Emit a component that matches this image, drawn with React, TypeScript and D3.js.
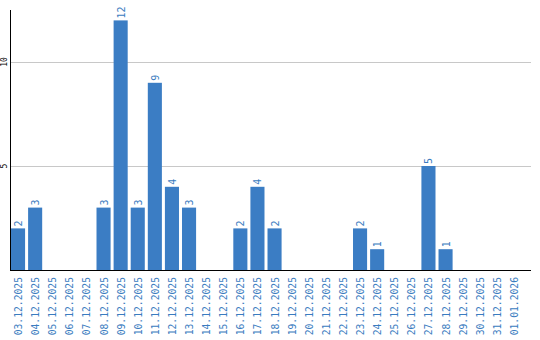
import React from "react";
import * as d3 from "d3";

const categories = [
  "03.12.2025","04.12.2025","05.12.2025","06.12.2025","07.12.2025","08.12.2025",
  "09.12.2025","10.12.2025","11.12.2025","12.12.2025","13.12.2025","14.12.2025",
  "15.12.2025","16.12.2025","17.12.2025","18.12.2025","19.12.2025","20.12.2025",
  "21.12.2025","22.12.2025","23.12.2025","24.12.2025","25.12.2025","26.12.2025",
  "27.12.2025","28.12.2025","29.12.2025","30.12.2025","31.12.2025","01.01.2026",
];
const values = [2,3,0,0,0,3,12,3,9,4,3,0,0,2,4,2,0,0,0,0,2,1,0,0,5,1,0,0,0,0];
const yTicks = [5, 10];

const W = 540, H = 340;
const left = 10, right = 531, top = 10, bottom = 270;
const BLUE = "#3b7dc4";
const TEXT_BLUE = "#3a7cc0";
const FONT = "'DejaVu Sans Mono', monospace";

export default function App() {
  const x = d3.scaleBand<string>().domain(categories).range([11, 521]).paddingInner(3 / 17).paddingOuter(0).align(0);
  const y = d3.scaleLinear().domain([0, 12.5]).range([bottom, top]);
  return (
    <svg width={W} height={H} style={{ position: "absolute", left: 0, top: 0 }}>
      {yTicks.map((t) => (
        <g key={t}>
          <line x1={left} x2={right} y1={Math.round(y(t)) + 0.5} y2={Math.round(y(t)) + 0.5} stroke="#c8c8c8" strokeWidth={1} />
          <text transform={`translate(7,${y(t)}) rotate(-90)`} textAnchor="middle" fontFamily={FONT} fontSize={8} fill="#000">{t}</text>
        </g>
      ))}
      {values.map((v, i) => {
        const c = categories[i];
        const bx = x(c)!;
        return v > 0 ? (
          <g key={c}>
            <rect x={bx} y={y(v)} width={x.bandwidth()} height={bottom - y(v)} fill={BLUE} />
            <text transform={`translate(${bx + x.bandwidth() / 2 + 4},${y(v) - 2}) rotate(-90)`} fontFamily={FONT} fontSize={10} fill={TEXT_BLUE}>{v}</text>
          </g>
        ) : null;
      })}
      <line x1={left + 0.5} x2={left + 0.5} y1={top} y2={bottom} stroke="#000" strokeWidth={1} />
      <line x1={left} x2={right} y1={bottom + 0.5} y2={bottom + 0.5} stroke="#000" strokeWidth={1} />
      {categories.map((c) => (
        <text key={c} transform={`translate(${x(c)! + x.bandwidth() / 2 + 4},${bottom + 7}) rotate(-90)`} textAnchor="end" fontFamily={FONT} fontSize={9.7} fill={TEXT_BLUE}>{c}</text>
      ))}
    </svg>
  );
}
